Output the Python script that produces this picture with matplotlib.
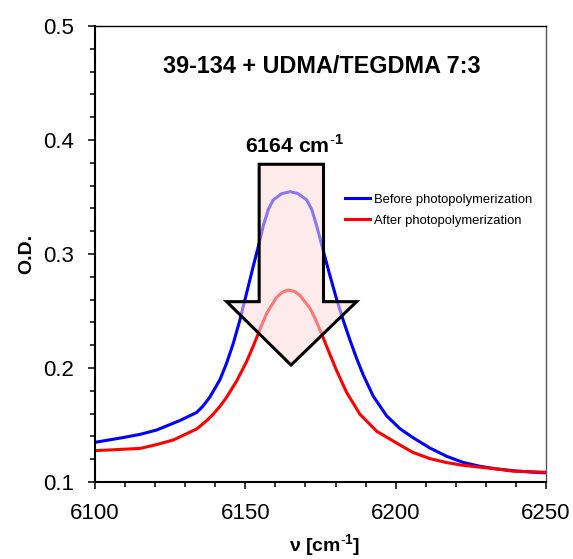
import matplotlib
matplotlib.use("Agg")
import matplotlib.pyplot as plt
from matplotlib.patches import Polygon
from matplotlib.ticker import MultipleLocator

plt.rcParams['font.family'] = ['Liberation Sans', 'DejaVu Sans']
plt.rcParams['mathtext.fontset'] = 'custom'
plt.rcParams['mathtext.rm'] = 'Liberation Sans'
plt.rcParams['mathtext.bf'] = 'Liberation Sans:bold'

# NIR spectra around the 6164 cm-1 methacrylate overtone band
wn_before = [6100, 6109.4, 6115, 6120.5, 6128.3, 6133.8, 6136.0, 6138.2,
             6141.6, 6143.8, 6146.0, 6148.2, 6150.4, 6152.6, 6154.3, 6156.0,
             6157.7, 6159.3, 6162.0, 6164.85, 6167.5, 6170.4, 6172.1, 6173.7,
             6175.9, 6178.2, 6180.4, 6182.6, 6184.8, 6187.0, 6189.2, 6192.5,
             6197.0, 6201.4, 6205.7, 6211.4, 6217.0, 6222.4, 6228.0, 6233.7,
             6240.0, 6245.0, 6250.0]
od_before = [0.1348, 0.139, 0.1418, 0.1456, 0.1540, 0.1610, 0.1668, 0.1745,
             0.1900, 0.2045, 0.2217, 0.2421, 0.2655, 0.2889, 0.3064, 0.325,
             0.3395, 0.3474, 0.3528, 0.3547, 0.353, 0.3474, 0.339, 0.325,
             0.303, 0.2805, 0.260, 0.2415, 0.2245, 0.2085, 0.194, 0.1755,
             0.1580, 0.1468, 0.139, 0.1298, 0.1225, 0.1172, 0.1138, 0.1114,
             0.1097, 0.1087, 0.108]

wn_after = [6100, 6109.4, 6115, 6120, 6126, 6133.8, 6137.0, 6139.3, 6141.6,
            6143.8, 6147.1, 6150.4, 6152.6, 6154.9, 6157.1, 6160.4, 6162.3,
            6164.3, 6166.3, 6168.2, 6171.5, 6173.7, 6175.9, 6178.2, 6180.4,
            6183.7, 6188.1, 6193.7, 6201.4, 6205.7, 6211.4, 6217.0, 6222.0,
            6228.0, 6234.0, 6239.0, 6245.0, 6250.0]
od_after = [0.1275, 0.1287, 0.1295, 0.1325, 0.1368, 0.1465, 0.1535, 0.1595,
            0.1665, 0.1745, 0.1885, 0.2055, 0.2190, 0.2340, 0.2480, 0.2620,
            0.2665, 0.2684, 0.2672, 0.2635, 0.2525, 0.2405, 0.2265, 0.2115,
            0.1975, 0.1785, 0.1595, 0.1445, 0.1325, 0.126, 0.1205, 0.117,
            0.1148, 0.113, 0.1113, 0.1095, 0.109, 0.1085]

# outline of the "decrease" arrow (wavenumber, O.D.)
arrow_x = [6154.6, 6176.0, 6176.0, 6187.0, 6165.2, 6143.8, 6154.6]
arrow_y = [0.3787, 0.3787, 0.2582, 0.2582, 0.2026, 0.2582, 0.2582]

fig = plt.figure(figsize=(5.73, 5.59), dpi=100)
ax = fig.add_axes([95 / 573, 77 / 559, 451 / 573, 456 / 559])

ax.plot(wn_before, od_before, color='#0000ff', lw=2.2,
        solid_joinstyle='round', label='Before photopolymerization')
ax.plot(wn_after, od_after, color='#ff0000', lw=2.2,
        solid_joinstyle='round', label='After photopolymerization')

ax.add_patch(Polygon(list(zip(arrow_x, arrow_y)), closed=True,
                     facecolor=(0.99, 0.86, 0.86, 0.55), edgecolor='black',
                     lw=2.2, joinstyle='miter', zorder=5))

ax.set_xlim(6100, 6250)
ax.set_ylim(0.1, 0.5)
ax.xaxis.set_major_locator(MultipleLocator(50))
ax.xaxis.set_minor_locator(MultipleLocator(10))
ax.yaxis.set_major_locator(MultipleLocator(0.1))
ax.yaxis.set_minor_locator(MultipleLocator(0.02))
ax.yaxis.set_major_formatter(plt.FuncFormatter(lambda v, p: f'{v:.1f}'))
ax.tick_params(which='both', direction='out', top=False, right=False,
               labelsize=16, width=1.1)
ax.tick_params(which='major', length=5, pad=10)
ax.tick_params(which='minor', length=3.5)
for side in ('left', 'bottom'):
    ax.spines[side].set_linewidth(1.5)
for side in ('top', 'right'):
    ax.spines[side].set_linewidth(1.0)
ax.spines['right'].set_color('#555555')

inv_cm = r'cm$^{\text{-}\mathbf{1}}$'
ax.set_xlabel('ν [' + inv_cm + ']', fontsize=14, fontweight='bold')
ax.xaxis.set_label_coords(0.51, -0.11)
ax.set_ylabel('O.D.', fontsize=14, fontweight='bold')
ax.yaxis.set_label_coords(-0.133, 0.5)

ax.text(0.503, 0.8976, '39-134 + UDMA/TEGDMA 7:3', transform=ax.transAxes,
        ha='center', va='baseline', fontsize=16.8, fontweight='bold')
ax.text(0.443, 0.7215, '6164 ' + inv_cm, transform=ax.transAxes,
        ha='center', va='baseline', fontsize=15.3, fontweight='bold')

ax.legend(loc='center left', bbox_to_anchor=(0.554, 0.596), frameon=False,
          fontsize=9.4, handlelength=1.9, handletextpad=0.3,
          labelspacing=0.68, borderaxespad=0, borderpad=0)

fig.savefig('out.png', dpi=100)
